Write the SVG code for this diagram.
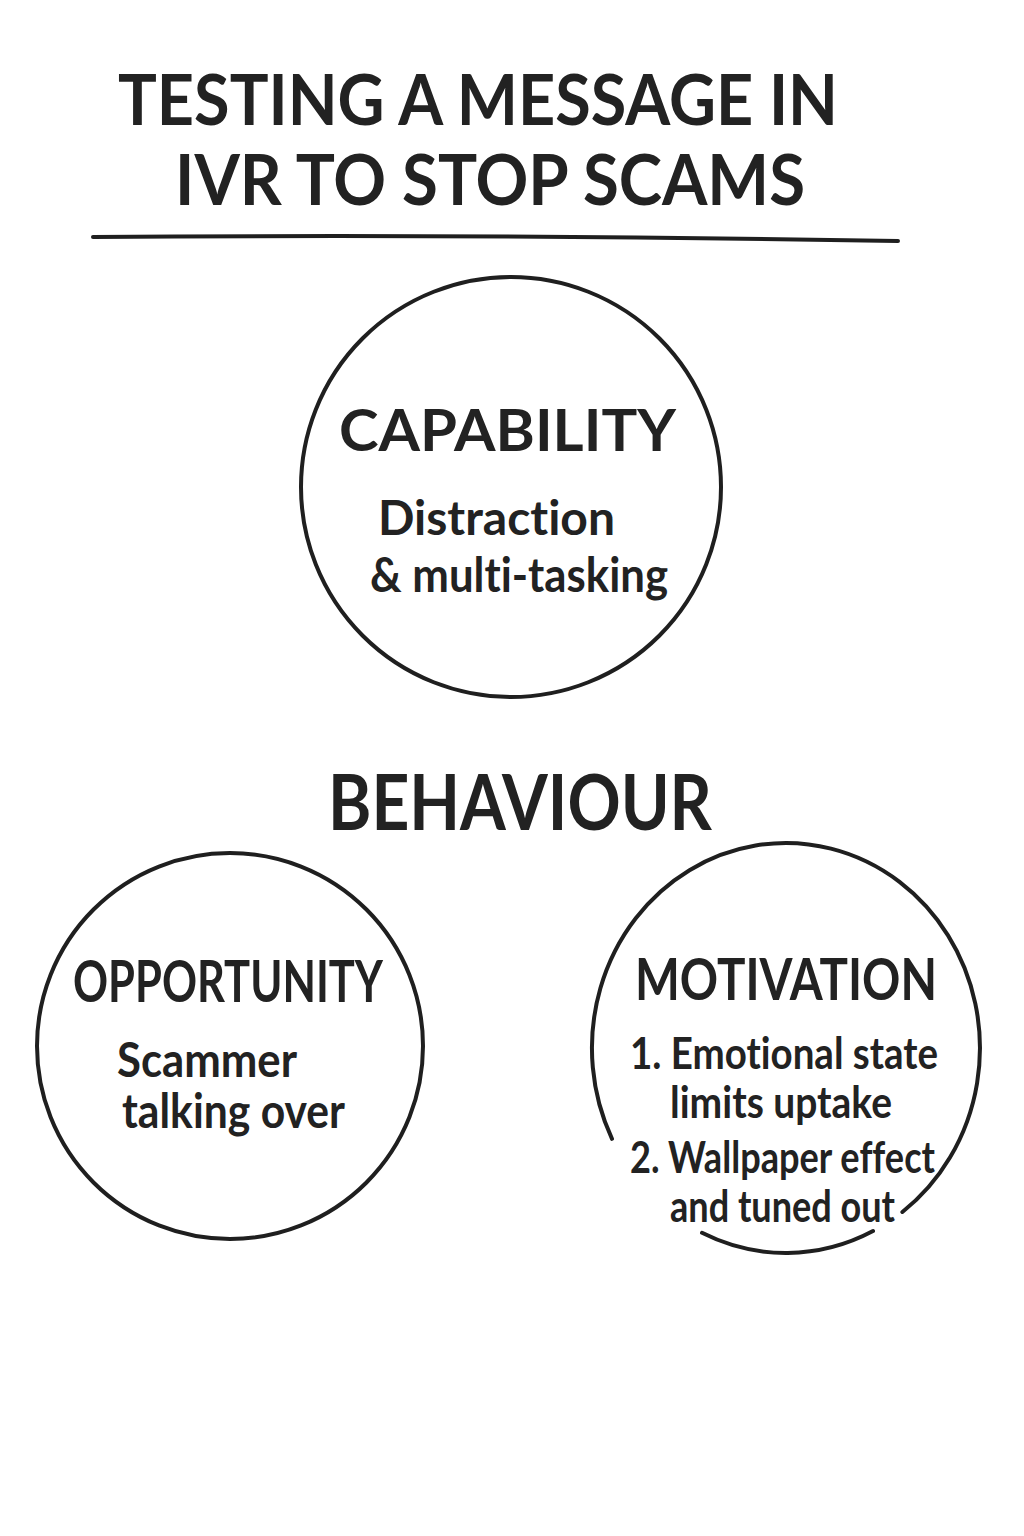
<svg xmlns="http://www.w3.org/2000/svg" width="1024" height="1536" viewBox="0 0 1024 1536">
<style>
text{font-family:Lato,"Open Sans","Liberation Sans",sans-serif;fill:#222222;font-weight:700;font-variant-ligatures:none;font-feature-settings:"liga" 0,"clig" 0}
.title{font-size:71px}
.head{font-size:58px}
.big{font-size:76px}
.body{font-size:47px}
.mbody{font-size:44px}
.ring{fill:none;stroke:#1f1f1f;stroke-width:4;stroke-linecap:round}
</style>
<rect width="1024" height="1536" fill="#ffffff"/>
<g id="title">
<text class="title" x="118" y="125" textLength="720" lengthAdjust="spacingAndGlyphs">TESTING A MESSAGE IN</text>
<text class="title" x="175" y="205" textLength="630" lengthAdjust="spacingAndGlyphs">IVR TO STOP SCAMS</text>
<path class="ring" d="M93 237 Q500 234 898 241" stroke-width="5"/>
</g>
<g id="capability">
<circle class="ring" cx="511" cy="487" r="210"/>
<text class="head" x="339" y="451" textLength="337" lengthAdjust="spacingAndGlyphs">CAPABILITY</text>
<text class="body" x="378" y="535" textLength="237" lengthAdjust="spacingAndGlyphs">Distraction</text>
<text class="body" x="370" y="592" textLength="298" lengthAdjust="spacingAndGlyphs">&amp; multi-tasking</text>
</g>
<g id="behaviour">
<text class="big" x="328" y="830" textLength="384" lengthAdjust="spacingAndGlyphs">BEHAVIOUR</text>
</g>
<g id="opportunity">
<circle class="ring" cx="230" cy="1046" r="193"/>
<text class="head" x="73" y="1002" textLength="310" lengthAdjust="spacingAndGlyphs">OPPORTUNITY</text>
<text class="body" x="117" y="1077" textLength="180" lengthAdjust="spacingAndGlyphs">Scammer</text>
<text class="body" x="122" y="1128" textLength="223" lengthAdjust="spacingAndGlyphs">talking over</text>
</g>
<g id="motivation">
<path class="ring" d="M902.4 1212 A194 205 0 1 0 612 1138.8"/>
<path class="ring" d="M702 1232.8 A194 205 0 0 0 873 1231"/>
<text class="head" x="635" y="1000" textLength="302" lengthAdjust="spacingAndGlyphs">MOTIVATION</text>
<text class="mbody" x="630" y="1069" textLength="308" lengthAdjust="spacingAndGlyphs">1. Emotional state</text>
<text class="mbody" x="670" y="1118" textLength="222" lengthAdjust="spacingAndGlyphs">limits uptake</text>
<text class="mbody" x="630" y="1173" textLength="305" lengthAdjust="spacingAndGlyphs">2. Wallpaper effect</text>
<text class="mbody" x="670" y="1222" textLength="225" lengthAdjust="spacingAndGlyphs">and tuned out</text>
</g>
</svg>
